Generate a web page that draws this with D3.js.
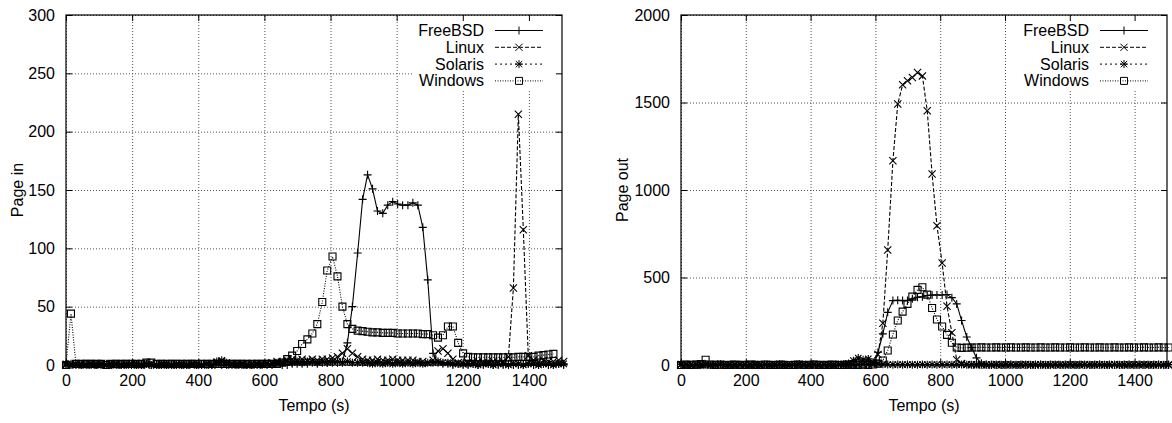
<!DOCTYPE html>
<html>
<head>
<meta charset="utf-8">
<script src="https://cdn.jsdelivr.net/npm/d3@7"></script>
<style>
body { margin: 0; background: #fff; }
text { font-family: "Liberation Sans", Arial, sans-serif; font-size: 16px; fill: #000; }
</style>
</head>
<body>
<div id="chart"></div>
<script>
// Sample times (s), one row every ~15 s
const tempo = [0,15,30,46,61,76,91,106,122,137,
  152,167,182,198,213,228,243,258,274,289,
  304,319,334,350,365,380,395,410,426,441,
  456,471,486,502,517,532,547,562,578,593,
  608,623,638,654,669,684,699,714,730,745,
  760,775,790,806,821,836,851,866,882,897,
  912,927,942,958,973,988,1003,1018,1034,1049,
  1064,1079,1094,1110,1125,1140,1155,1170,1186,1201,
  1216,1231,1246,1262,1277,1292,1307,1322,1338,1353,
  1368,1383,1398,1414,1429,1444,1459,1474,1490,1505]

const sistemas = ['FreeBSD', 'Linux', 'Solaris', 'Windows']

// Page in
const freebsdIn = [0,1,0,0,1,0,0,0,1,0,
  0,0,1,0,0,0,1,0,0,0,
  0,1,0,0,0,1,0,0,0,0,
  1,0,0,0,1,0,0,0,0,1,
  0,0,1,0,0,1,1,1,1,2,
  1,2,2,2,2,3,19,50,96,142,
  163,151,132,130,137,140,138,137,137,139,
  137,118,73,10,2,1,1,0,1,0,
  0,1,0,0,1,0,0,0,1,0,
  0,0,1,0,0,1,0,0,1,0]
const linuxIn = [0,1,0,1,0,0,1,0,0,1,
  0,0,1,0,1,0,0,1,0,0,
  1,0,0,1,0,0,1,0,1,0,
  2,3,1,0,1,0,0,1,0,1,
  1,2,3,3,4,5,4,5,4,5,
  4,5,5,6,7,10,14,10,7,5,
  4,4,5,4,4,5,4,4,4,4,
  3,3,2,4,12,14,10,5,2,1,
  2,2,3,2,2,3,2,3,7,66,
  215,116,8,4,3,4,3,3,4,3]
const solarisIn = [1,0,1,0,0,1,0,1,0,0,
  1,0,0,1,0,0,1,0,0,1,
  0,0,1,0,0,1,0,0,1,0,
  3,4,2,1,0,1,0,0,1,0,
  1,1,2,2,3,2,3,2,3,3,
  2,3,2,3,3,2,3,2,2,2,
  2,1,2,1,2,1,2,1,2,1,
  2,1,2,2,3,2,2,1,1,1,
  1,1,0,1,1,0,1,1,0,1,
  1,0,1,1,0,1,1,0,1,1]
const windowsIn = [0,44,1,1,1,1,1,1,0,1,
  1,1,1,1,1,1,2,2,1,1,
  1,1,1,1,1,1,1,1,1,1,
  1,1,1,1,1,1,1,1,1,1,
  1,1,1,2,5,8,12,18,22,27,
  35,54,81,93,76,50,35,31,29.5,29,
  28.5,28,28,27.5,27.5,27.5,27,27,27,27,
  27,26.5,26.5,25.5,23.5,25.5,33,33,19,10,
  7,6.5,6.5,6.5,6.5,6.5,6.5,6.5,6.5,6.5,
  7,7,7,7,8,8.5,9,9.5,null,null]

// Page out
const freebsdOut = [3,0,2,0,0,3,0,0,2,0,
  0,3,0,0,2,0,0,0,3,0,
  0,2,0,0,3,0,0,2,0,0,
  3,0,0,2,0,0,3,5,4,15,
  73,178,301,368,370,368,368,378,387,390,
  397,400,400,400,403,385,349,254,160,100,
  41,10,3,0,2,0,0,3,0,0,
  2,0,0,3,0,0,2,0,0,3,
  0,0,2,0,0,3,0,0,2,0,
  0,3,0,0,2,0,0,3,0,0]
const linuxOut = [2,0,3,0,0,2,0,0,3,0,
  0,2,0,0,3,0,0,2,0,0,
  3,0,0,2,0,0,3,0,0,2,
  0,0,3,0,0,2,4,6,5,10,
  60,239,657,1167,1491,1601,1624,1643,1671,1652,
  1453,1091,796,583,336,185,30,8,3,2,
  0,2,0,0,3,0,0,2,0,0,
  3,0,0,2,0,0,3,0,0,2,
  0,0,3,0,0,2,0,0,3,0,
  0,2,0,0,3,0,0,2,0,0]
const solarisOut = [5,2,0,3,1,4,0,2,5,1,
  3,0,4,2,0,5,1,3,0,2,
  4,1,0,3,5,2,0,4,1,3,
  2,0,3,5,8,25,40,30,35,15,
  8,5,3,2,3,2,3,2,2,3,
  2,3,2,2,3,2,2,3,2,2,
  3,2,2,3,2,2,3,2,2,3,
  2,2,3,2,2,3,2,2,3,2,
  2,3,2,2,3,2,2,3,2,2,
  3,2,2,3,2,2,3,2,2,3]
const windowsOut = [0,2,1,2,5,30,3,1,2,0,
  1,2,0,1,2,1,0,2,1,0,
  2,1,0,1,2,0,1,2,1,0,
  1,2,0,1,2,1,0,2,1,3,
  8,26,83,174,254,305,349,391,429,444,
  402,326,260,220,172,127,100,98,99,100,
  100,101,100,100,101,100,100,101,100,100,
  101,100,100,101,100,100,101,100,100,101,
  100,100,101,100,100,101,100,100,101,100,
  100,101,100,100,101,100,100,101,100,100]

// Tick values
const xTicks = [0, 200, 400, 600, 800, 1000, 1200, 1400]
const yTicksIn = [0, 50, 100, 150, 200, 250, 300]
const yTicksOut = [0, 500, 1000, 1500, 2000]

// Gnuplot-like line styles per system
const estilos = {
  FreeBSD: { dash: null, marker: 'plus' },
  Linux: { dash: '4,2', marker: 'cross' },
  Solaris: { dash: '2,3', marker: 'star' },
  Windows: { dash: '1,1.5', marker: 'square' }
}

const width = 1172
const height = 423
const fmt = d3.format('d')

const svg = d3.select('#chart')
  .append('svg')
  .attr('width', width)
  .attr('height', height)

function markerPath(kind) {
  const p = d3.path()
  const r = 4
  const c = kind === 'star' ? 3.2 : 3.6
  if (kind === 'plus' || kind === 'star') {
    p.moveTo(-r, 0); p.lineTo(r, 0)
    p.moveTo(0, -r); p.lineTo(0, r)
  }
  if (kind === 'cross' || kind === 'star') {
    p.moveTo(-c, -c); p.lineTo(c, c)
    p.moveTo(-c, c); p.lineTo(c, -c)
  }
  if (kind === 'square') p.rect(-3.5, -3.5, 7, 7)
  return p.toString()
}

function drawPanel(cfg) {
  const { left, right, top, bottom } = cfg
  const w = right - left
  const h = bottom - top

  const x = d3.scaleLinear().domain([0, 1500]).range([left, right])
  const y = d3.scaleLinear().domain([0, cfg.yMax]).range([bottom, top])

  const g = svg.append('g')

  // dotted grid
  g.append('g')
    .attr('transform', `translate(0, ${bottom})`)
    .call(d3.axisBottom(x).tickValues(xTicks).tickSize(-h).tickFormat(''))
    .call(s => s.select('.domain').remove())
    .call(s => s.selectAll('line').attr('stroke', '#555').attr('stroke-dasharray', '1,2'))
  g.append('g')
    .attr('transform', `translate(${left}, 0)`)
    .call(d3.axisLeft(y).tickValues(cfg.yTicks).tickSize(-w).tickFormat(''))
    .call(s => s.select('.domain').remove())
    .call(s => s.selectAll('line').attr('stroke', '#555').attr('stroke-dasharray', '1,2'))

  // key background hides the grid behind it
  const keyRight = right - 78
  g.append('rect')
    .attr('x', keyRight - 71)
    .attr('y', top + 1)
    .attr('width', right - keyRight + 70.5)
    .attr('height', 73)
    .attr('fill', '#fff')

  // axes with inward ticks on all four sides
  const xb = g.append('g')
    .attr('transform', `translate(0, ${bottom})`)
    .call(d3.axisBottom(x).tickValues(xTicks).tickFormat(fmt).tickSizeInner(-6).tickSizeOuter(0).tickPadding(10))
  const xt = g.append('g')
    .attr('transform', `translate(0, ${top})`)
    .call(d3.axisTop(x).tickValues(xTicks).tickSizeInner(-6).tickSizeOuter(0).tickFormat(''))
  const yl = g.append('g')
    .attr('transform', `translate(${left}, 0)`)
    .call(d3.axisLeft(y).tickValues(cfg.yTicks).tickFormat(fmt).tickSizeInner(-6).tickSizeOuter(0).tickPadding(11))
  const yr = g.append('g')
    .attr('transform', `translate(${right}, 0)`)
    .call(d3.axisRight(y).tickValues(cfg.yTicks).tickSizeInner(-6).tickSizeOuter(0).tickFormat(''))
  for (const a of [xb, xt, yl, yr]) {
    a.select('.domain').remove()
    a.selectAll('line').attr('stroke', '#000')
    a.selectAll('text').attr('font-size', 16).attr('font-family', '"Liberation Sans", Arial, sans-serif').attr('fill', '#000')
  }

  g.append('rect')
    .attr('x', left).attr('y', top)
    .attr('width', w).attr('height', h)
    .attr('fill', 'none')
    .attr('stroke', '#000')
    .attr('stroke-width', 1.2)

  // axis titles
  g.append('text')
    .attr('x', (left + right) / 2)
    .attr('y', 411)
    .attr('text-anchor', 'middle')
    .text('Tempo (s)')
  g.append('text')
    .attr('transform', `translate(${cfg.labelX}, ${(top + bottom) / 2}) rotate(-90)`)
    .attr('text-anchor', 'middle')
    .text(cfg.label)

  // series
  const line = d3.line()
    .defined(d => d[1] != null)
    .x(d => x(d[0]))
    .y(d => y(d[1]))

  cfg.series.forEach((vals, i) => {
    const nome = sistemas[i]
    const st = estilos[nome]
    const pts = tempo.map((t, k) => [t, vals[k]])
    const sg = g.append('g').attr('class', nome)

    sg.append('path')
      .datum(pts)
      .attr('d', line)
      .attr('fill', 'none')
      .attr('stroke', '#000')
      .attr('stroke-width', 1.1)
      .attr('stroke-dasharray', st.dash)

    sg.selectAll('path.pt')
      .data(pts.filter(d => d[1] != null))
      .join('path')
      .attr('class', 'pt')
      .attr('transform', d => `translate(${x(d[0])}, ${y(d[1])})`)
      .attr('d', markerPath(st.marker))
      .attr('fill', 'none')
      .attr('stroke', '#000')
      .attr('stroke-width', 1.1)
  })

  // key
  sistemas.forEach((nome, i) => {
    const st = estilos[nome]
    const base = 36 + i * 16.8
    const cy = base - 5.5
    g.append('text')
      .attr('x', keyRight)
      .attr('y', base)
      .attr('text-anchor', 'end')
      .text(nome)
    g.append('line')
      .attr('x1', right - 67).attr('x2', right - 19)
      .attr('y1', cy).attr('y2', cy)
      .attr('stroke', '#000')
      .attr('stroke-dasharray', st.dash)
    g.append('path')
      .attr('transform', `translate(${right - 43}, ${cy})`)
      .attr('d', markerPath(st.marker))
      .attr('fill', 'none')
      .attr('stroke', '#000')
  })
}

drawPanel({
  left: 66, right: 562, top: 15, bottom: 365,
  yMax: 300, yTicks: yTicksIn,
  label: 'Page in', labelX: 23,
  series: [freebsdIn, linuxIn, solarisIn, windowsIn]
})

drawPanel({
  left: 681, right: 1167, top: 15, bottom: 365,
  yMax: 2000, yTicks: yTicksOut,
  label: 'Page out', labelX: 628,
  series: [freebsdOut, linuxOut, solarisOut, windowsOut]
})
</script>
</body>
</html>
